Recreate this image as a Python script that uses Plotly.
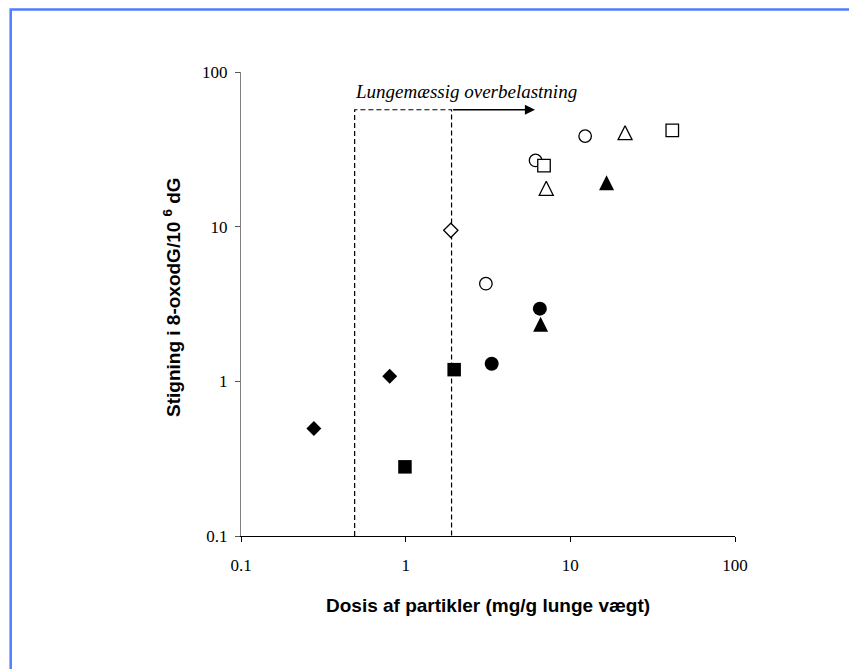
import numpy as np
import plotly.graph_objects as go

# ---------------- data ----------------
diamond_filled_x = [0.277, 0.80]
diamond_filled_y = [0.495, 1.08]
square_filled_x = [0.99, 1.97]
square_filled_y = [0.28, 1.19]
diamond_open_x = [1.88]
diamond_open_y = [9.47]
circle_open_x = [3.07, 6.15, 12.3]
circle_open_y = [4.28, 26.8, 38.5]
circle_filled_x = [3.33, 6.53]
circle_filled_y = [1.30, 2.95]
square_open_x = [6.92, 41.6]
square_open_y = [24.8, 41.9]
triangle_open_x = [7.14, 21.5]
triangle_open_y = [17.7, 40.5]
triangle_filled_x = [6.60, 16.6]
triangle_filled_y = [2.36, 19.4]

overload_x = [0.49, 1.9]      # dashed box edges (dose)
overload_top = 57             # dashed box top (y value)
arrow_end_x = 6.1             # arrow tip (dose)
overload_label = "Lungemæssig overbelastning"

tick_vals = [0.1, 1, 10, 100]
tick_text = ["0.1", "1", "10", "100"]

x_title = "Dosis af partikler (mg/g lunge vægt)"
y_title = "Stigning i 8-oxodG/10 <sup>6</sup> dG"

# ---------------- figure ----------------
W, H = 849, 669
ML, MR, MT, MB = 241, 114, 72, 133
plot_h = H - MT - MB
pw = W - ML - MR
px_per_decade = plot_h / 3.0
TRI_SIZE = 14
tri_shift = (TRI_SIZE / 2.0) / px_per_decade

fig = go.Figure()

def add(xs, ys, symbol, filled, size, yaxis="y"):
    fig.add_trace(go.Scatter(
        x=xs, y=ys, mode="markers", yaxis=yaxis, hoverinfo="x+y",
        marker=dict(symbol=symbol, size=size,
                    color="black" if filled else "white",
                    line=dict(color="black", width=0 if filled else 1.3)),
        showlegend=False))

# dashed "overload" box
fig.add_trace(go.Scatter(
    x=[overload_x[0], overload_x[0], overload_x[1], overload_x[1]],
    y=[0.1, overload_top, overload_top, 0.1],
    mode="lines", line=dict(color="black", width=1.2, dash="5px,3px"),
    hoverinfo="skip", showlegend=False))

add(diamond_filled_x, diamond_filled_y, "diamond", True, 11.5)
add(square_filled_x, square_filled_y, "square", True, 13.5)
add(diamond_open_x, diamond_open_y, "diamond", False, 11)
add(circle_open_x, circle_open_y, "circle", False, 12.5)
add(circle_filled_x, circle_filled_y, "circle", True, 14)
add(square_open_x, square_open_y, "square", False, 12.5)
add(triangle_open_x, triangle_open_y, "arrow-up", False, TRI_SIZE, yaxis="y2")
add(triangle_filled_x, triangle_filled_y, "arrow-up", True, TRI_SIZE + 1, yaxis="y2")

serif = "Liberation Serif, Times New Roman, serif"
sans = "Liberation Sans, Arial, sans-serif"

fig.update_layout(
    width=W, height=H, autosize=False,
    margin=dict(l=ML, r=MR, t=MT, b=MB, pad=0),
    paper_bgcolor="white", plot_bgcolor="white",
    showlegend=False,
    xaxis=dict(type="log", range=[-1, 2], showgrid=False, zeroline=False,
               showline=True, linecolor="black", linewidth=1,
               ticks="outside", ticklen=5, tickcolor="black", tickwidth=1,
               tickvals=tick_vals, ticktext=tick_text, ticklabelstandoff=9,
               tickfont=dict(family=serif, size=17, color="black")),
    yaxis=dict(type="log", range=[-1, 2], showgrid=False, zeroline=False,
               showline=True, linecolor="#808080", linewidth=1,
               ticks="outside", ticklen=5, tickcolor="#555", tickwidth=1,
               tickvals=tick_vals, ticktext=tick_text, ticklabelstandoff=4,
               tickfont=dict(family=serif, size=17, color="black")),
    yaxis2=dict(type="log", range=[-1 - tri_shift, 2 - tri_shift], overlaying="y",
                visible=False, showgrid=False),
)

annotations = [
    dict(text="<b>" + x_title + "</b>", xref="paper", yref="paper",
         x=0.5, y=(plot_h - (605 - MT)) / plot_h, xanchor="center", yanchor="middle",
         showarrow=False, font=dict(family=sans, size=19, color="black")),
    dict(text="<b>" + y_title + "</b>", xref="paper", yref="paper",
         x=(172 - ML) / pw, y=(plot_h - (297 - MT)) / plot_h,
         xanchor="center", yanchor="middle", textangle=-90,
         showarrow=False, font=dict(family=sans, size=19, color="black")),
    dict(text="<i>" + overload_label + "</i>", xref="paper", yref="paper",
         x=(466 - ML) / pw, y=(plot_h - (91 - MT)) / plot_h,
         xanchor="center", yanchor="middle", showarrow=False,
         font=dict(family=serif, size=19, color="black")),
    dict(text="", xref="x", yref="y", axref="x", ayref="y",
         x=np.log10(arrow_end_x), y=np.log10(overload_top),
         ax=np.log10(overload_x[1]), ay=np.log10(overload_top),
         showarrow=True, arrowhead=2, arrowsize=1.35, arrowwidth=1.5,
         arrowcolor="black", standoff=0, startstandoff=0),
]
fig.update_layout(annotations=annotations)

# blue frame (extends past right and bottom edges, as in the reference)
fig.add_shape(type="rect", xref="paper", yref="paper",
              x0=(10.7 - ML) / pw, x1=(W + 20 - ML) / pw,
              y0=(plot_h - (H + 20 - MT)) / plot_h, y1=(plot_h - (9.5 - MT)) / plot_h,
              line=dict(color="#4f7dff", width=2.5), fillcolor="rgba(0,0,0,0)",
              layer="below")

fig.write_html("out.html")
